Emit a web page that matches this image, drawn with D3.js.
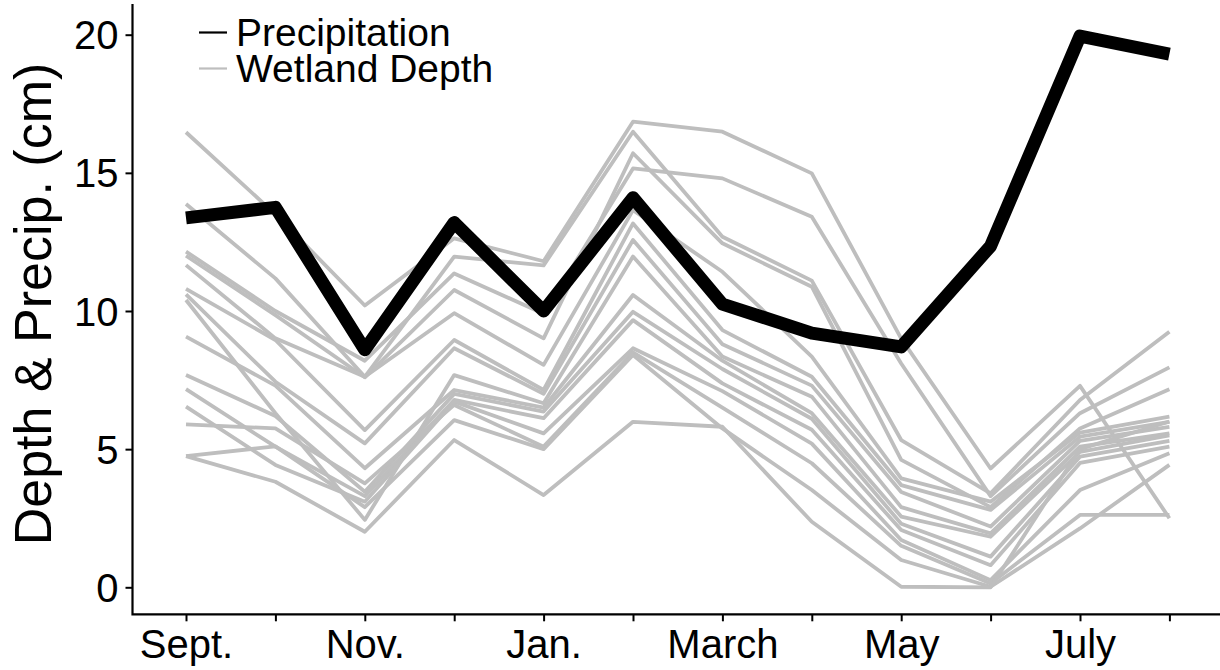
<!DOCTYPE html>
<html>
<head>
<meta charset="utf-8">
<script src="https://cdn.jsdelivr.net/npm/d3@7"></script>
<style>
  html, body { margin: 0; padding: 0; background: #fff; }
  svg { display: block; }
  text { font-family: "Liberation Sans", Arial, Helvetica, sans-serif; fill: #000; }
</style>
</head>
<body>
<svg id="chart" width="1220" height="670"></svg>
<script>
// Month categories along the hydrological year (Sept. – Aug.)
const months = ["Sept.", "Oct.", "Nov.", "Dec.", "Jan.", "Feb.", "March", "April", "May", "June", "July", "Aug."];
const yTicks = [0, 5, 10, 15, 20];

// Monthly precipitation (cm)
const precipitation = [13.37, 13.75, 8.6, 13.2, 10.0, 14.1, 10.25, 9.2, 8.7, 12.35, 19.95, 19.3];

// Monthly water depth (cm) for each monitored wetland
const wetland01 = [16.47, 13.5, 10.2, 12.63, 11.8, 16.85, 16.49, 14.98, 9.0, 4.3, 7.29, 2.5];
const wetland02 = [13.87, 11.18, 7.62, 11.97, 11.65, 16.49, 12.69, 11.1, 5.33, 3.4, 6.78, 9.25];
const wetland03 = [12.15, 10.0, 8.2, 11.36, 9.9, 15.16, 14.8, 13.41, 8.1, 3.3, 6.3, 7.96];
const wetland04 = [12.0, 9.85, 7.6, 10.76, 9.01, 15.71, 12.45, 10.88, 4.61, 2.9, 5.75, 7.17];
const wetland05 = [11.66, 9.01, 7.62, 9.92, 8.05, 13.65, 11.42, 8.35, 3.94, 3.1, 5.6, 6.18];
const wetland06 = [10.8, 8.95, 5.69, 8.95, 7.14, 13.17, 9.31, 7.62, 3.7, 2.8, 5.45, 5.99];
const wetland07 = [10.6, 7.44, 5.21, 8.65, 7.0, 12.57, 8.8, 7.3, 3.45, 2.2, 5.3, 5.81];
const wetland08 = [10.4, 6.3, 2.44, 7.68, 6.66, 11.97, 8.35, 6.9, 2.9, 1.95, 5.09, 5.57];
const wetland09 = [9.07, 7.3, 4.31, 7.14, 6.5, 10.58, 8.2, 6.3, 2.56, 1.83, 4.9, 5.5];
const wetland10 = [7.68, 6.2, 3.46, 7.0, 6.36, 9.97, 7.9, 6.1, 2.3, 1.11, 4.73, 5.3];
const wetland11 = [7.17, 5.09, 3.3, 6.78, 6.12, 9.67, 7.38, 5.7, 2.07, 0.8, 4.5, 5.09];
const wetland12 = [6.54, 4.43, 3.1, 6.72, 5.57, 8.65, 7.1, 5.2, 1.71, 0.26, 3.52, 4.85];
const wetland13 = [5.9, 5.75, 3.76, 6.6, 5.09, 8.5, 6.5, 4.49, 1.5, 0.14, 2.62, 2.62];
const wetland14 = [4.75, 5.1, 2.9, 6.05, 5.0, 8.41, 5.75, 3.52, 0.99, 0.02, 2.13, 4.43];
const wetland15 = [4.75, 3.82, 2.01, 5.33, 3.34, 5.99, 5.81, 2.37, 0.02, 0.0, 5.0, 6.0];

const wetlands = [wetland01, wetland02, wetland03, wetland04, wetland05, wetland06, wetland07,
                  wetland08, wetland09, wetland10, wetland11, wetland12, wetland13, wetland14, wetland15];

const legendItems = [
  { label: "Precipitation", color: "#000000" },
  { label: "Wetland Depth", color: "#BEBEBE" }
];

const svg = d3.select("#chart");
const W = 1220, H = 670;
svg.append("rect").attr("width", W).attr("height", H).attr("fill", "#fff");

// Panel edges
const panel = { left: 132.5, right: 1224, top: 4, bottom: 614.3 };

const x = d3.scalePoint().domain(months).range([186, 1169.4]);
const y = d3.scaleLinear().domain([0, 20]).range([587.3, 34.7]);

const line = d3.line()
  .x((d, i) => x(months[i]))
  .y(d => y(d));

// Wetland depth series
svg.append("g")
  .selectAll("path")
  .data(wetlands)
  .join("path")
  .attr("d", line)
  .attr("fill", "none")
  .attr("stroke", "#BEBEBE")
  .attr("stroke-width", 3.8)
  .attr("stroke-linejoin", "round");

// Precipitation series
svg.append("path")
  .datum(precipitation)
  .attr("d", line)
  .attr("fill", "none")
  .attr("stroke", "#000")
  .attr("stroke-width", 13)
  .attr("stroke-linejoin", "round")
  .attr("stroke-linecap", "butt");

// Y axis
const yAxis = svg.append("g")
  .attr("transform", `translate(${panel.left},0)`)
  .call(d3.axisLeft(y).tickValues(yTicks).tickSize(7).tickPadding(7));
yAxis.select(".domain").remove();
yAxis.selectAll(".tick line").attr("stroke", "#000").attr("stroke-width", 2);
yAxis.selectAll(".tick text").attr("font-size", 40).attr("dy", "0.35em");

// X axis
const xAxis = svg.append("g")
  .attr("transform", `translate(0,${panel.bottom})`)
  .call(d3.axisBottom(x).tickSize(7).tickPadding(8)
    .tickFormat((d, i) => (i % 2 === 0 ? d : "")));
xAxis.select(".domain").remove();
xAxis.selectAll(".tick line").attr("stroke", "#000").attr("stroke-width", 2);
xAxis.selectAll(".tick text").attr("font-size", 40);

// Axis lines
svg.append("path")
  .attr("d", `M${panel.left},${panel.top}V${panel.bottom}H${panel.right}`)
  .attr("fill", "none")
  .attr("stroke", "#000")
  .attr("stroke-width", 2.2);

// Y axis title
svg.append("text")
  .attr("transform", `translate(51,304) rotate(-90)`)
  .attr("text-anchor", "middle")
  .attr("font-size", 52)
  .text("Depth & Precip. (cm)");

// Legend
const legend = svg.append("g").attr("transform", "translate(199,32.5)");
const items = legend.selectAll("g")
  .data(legendItems)
  .join("g")
  .attr("transform", (d, i) => `translate(0,${i * 36})`);
items.append("line")
  .attr("x1", 0).attr("x2", 28)
  .attr("stroke", d => d.color)
  .attr("stroke-width", 2.2);
items.append("text")
  .attr("x", 37)
  .attr("y", 13.5)
  .attr("font-size", 39)
  .text(d => d.label);
</script>
</body>
</html>
